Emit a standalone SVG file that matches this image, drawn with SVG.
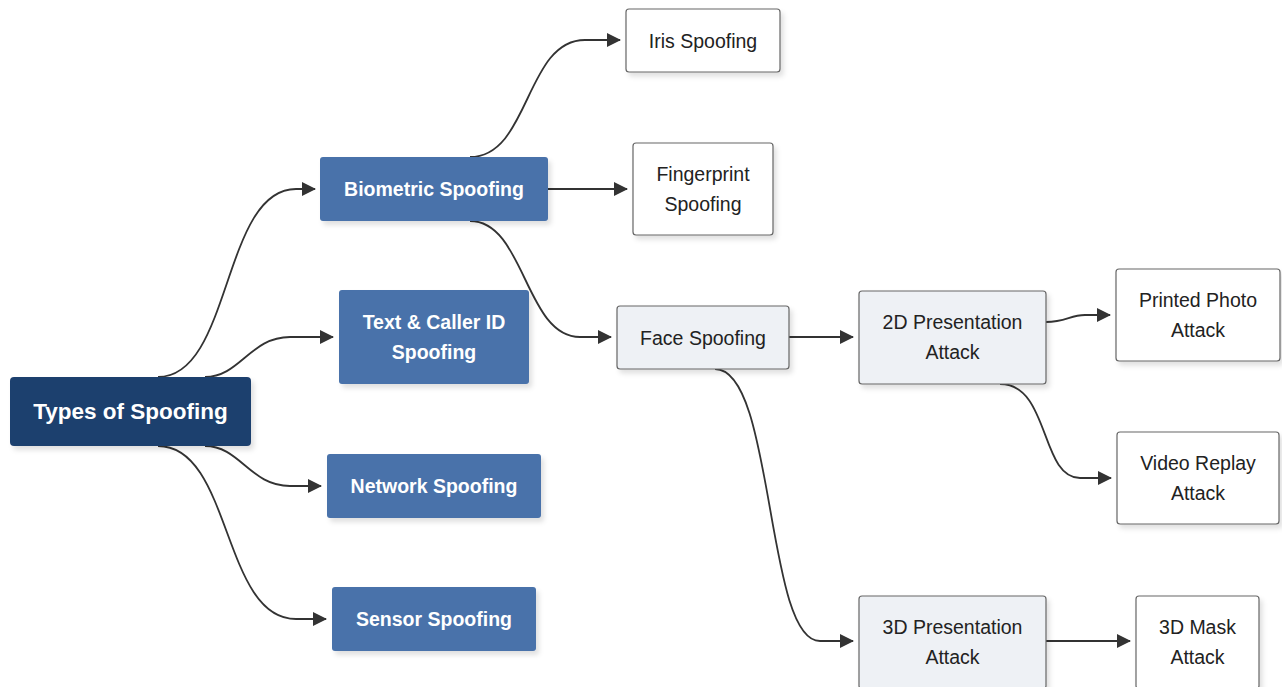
<svg xmlns="http://www.w3.org/2000/svg" width="1282" height="687" viewBox="0 0 1282 687">
<defs>
<filter id="sh" x="-10%" y="-10%" width="130%" height="140%">
<feDropShadow dx="3" dy="4" stdDeviation="2.5" flood-color="#000" flood-opacity="0.12"/>
</filter>
<marker id="arr" viewBox="0 0 14 14" refX="13" refY="7" markerWidth="14" markerHeight="14" markerUnits="userSpaceOnUse" orient="auto">
<path d="M0,0 L14,7 L0,14 Z" fill="#333"/>
</marker>
<style>
.root{fill:#1e3f6e;filter:url(#sh)}
.blue{fill:#4872aa;filter:url(#sh)}
.grey{fill:#eef1f5;stroke:#666;stroke-width:1.2;filter:url(#sh)}
.white{fill:#fff;stroke:#666;stroke-width:1.2;filter:url(#sh)}
.tb{font-family:"Liberation Sans",Arial,sans-serif;font-weight:bold;fill:#fff;font-size:19.5px;text-anchor:middle;dominant-baseline:central}
.tr{font-size:22.5px}
.tn{font-family:"Liberation Sans",Arial,sans-serif;fill:#222;font-size:19.5px;text-anchor:middle;dominant-baseline:central}
.c{fill:none;stroke:#333;stroke-width:1.8;marker-end:url(#arr)}
</style>
</defs>
<rect width="1282" height="687" fill="#fff"/>
<g id="connectors">
<path class="c" d="M158,377 C232,377 222,189 296,189 L315,189"/>
<path class="c" d="M205,377 C240,377 250,337 290,337 L333,337"/>
<path class="c" d="M205,446 C240,446 250,486 290,486 L321,486"/>
<path class="c" d="M158,446 C232,446 222,619 296,619 L326,619"/>
<path class="c" d="M470,157 C530,157 525,40 585,40 L620,40"/>
<path class="c" d="M548,189 L627,189"/>
<path class="c" d="M470,221 C525,221 525,337 580,337 L611,337"/>
<path class="c" d="M789,337 L853,337"/>
<path class="c" d="M715,369 C775,369 765,641 820,641 L853,641"/>
<path class="c" d="M1046,322 C1066,322 1070,315 1085,315 L1110,315"/>
<path class="c" d="M1000,384 C1050,384 1040,478 1080,478 L1111,478"/>
<path class="c" d="M1046,641 L1130,641"/>
</g>
<g id="n-root"><rect class="root" x="10" y="377" width="241" height="69" rx="4"/><text class="tb tr" x="130.5" y="411.5">Types of Spoofing</text></g>
<g id="n-biometric"><rect class="blue" x="320" y="157" width="228" height="64" rx="3"/><text class="tb" x="434" y="189">Biometric Spoofing</text></g>
<g id="n-text"><rect class="blue" x="339" y="290" width="190" height="94" rx="3"/><text class="tb" x="434" y="322">Text &amp; Caller ID</text><text class="tb" x="434" y="352">Spoofing</text></g>
<g id="n-network"><rect class="blue" x="327" y="454" width="214" height="64" rx="3"/><text class="tb" x="434" y="486">Network Spoofing</text></g>
<g id="n-sensor"><rect class="blue" x="332" y="587" width="204" height="64" rx="3"/><text class="tb" x="434" y="619">Sensor Spoofing</text></g>
<g id="n-iris"><rect class="white" x="626" y="9" width="154" height="63" rx="3"/><text class="tn" x="703" y="40.5">Iris Spoofing</text></g>
<g id="n-fingerprint"><rect class="white" x="633" y="143" width="140" height="92" rx="3"/><text class="tn" x="703" y="174">Fingerprint</text><text class="tn" x="703" y="204">Spoofing</text></g>
<g id="n-face"><rect class="grey" x="617" y="306" width="172" height="63" rx="3"/><text class="tn" x="703" y="337.5">Face Spoofing</text></g>
<g id="n-2d"><rect class="grey" x="859" y="291" width="187" height="93" rx="3"/><text class="tn" x="952.5" y="322">2D Presentation</text><text class="tn" x="952.5" y="352">Attack</text></g>
<g id="n-printed"><rect class="white" x="1116" y="269" width="164" height="92" rx="3"/><text class="tn" x="1198" y="300">Printed Photo</text><text class="tn" x="1198" y="330">Attack</text></g>
<g id="n-video"><rect class="white" x="1117" y="432" width="162" height="92" rx="3"/><text class="tn" x="1198" y="463">Video Replay</text><text class="tn" x="1198" y="493">Attack</text></g>
<g id="n-3d"><rect class="grey" x="859" y="596" width="187" height="93" rx="3"/><text class="tn" x="952.5" y="627">3D Presentation</text><text class="tn" x="952.5" y="657">Attack</text></g>
<g id="n-mask"><rect class="white" x="1136" y="596" width="123" height="93" rx="3"/><text class="tn" x="1197.5" y="627">3D Mask</text><text class="tn" x="1197.5" y="657">Attack</text></g>
</svg>
